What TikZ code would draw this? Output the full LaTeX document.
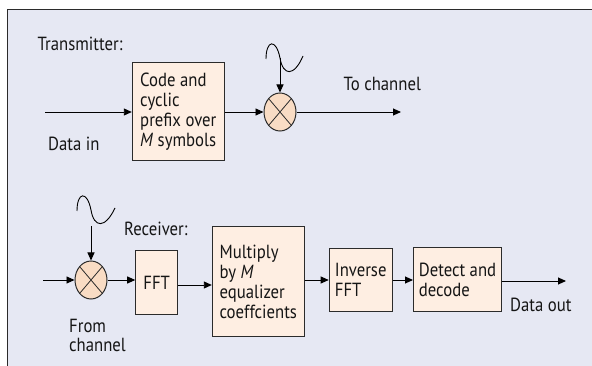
\documentclass[tikz,border=0pt]{standalone}
\usepackage{fontspec}
\setmainfont{PT Sans}[FakeStretch=0.88]
\usetikzlibrary{arrows.meta,shapes.geometric}
\definecolor{bgc}{HTML}{E6E8F3}
\definecolor{boxc}{HTML}{FEEEE2}
\definecolor{mixc}{HTML}{F9DCC4}
\definecolor{linec}{HTML}{2B2B2B}
\definecolor{txtc}{HTML}{151515}
\begin{document}
\begin{tikzpicture}[x=1pt,y=1pt,
  lbl/.style={font=\fontsize{19}{20}\selectfont, text=txtc, inner sep=0pt, align=left},
  blk/.style={draw=linec, line width=1pt, fill=boxc, font=\fontsize{19}{20}\selectfont, text=txtc, align=left, inner sep=0pt},
  mix/.style={ellipse, draw=linec, line width=1pt, fill=mixc, minimum width=32pt, minimum height=38pt, inner sep=0pt},
  conn/.style={draw=black, line width=0.9pt, -{Triangle[length=8pt,width=7pt]}},
  wave/.style={draw=black, line width=0.9pt},
  crossln/.style={draw=linec, line width=0.8pt}]
\useasboundingbox (0,0) rectangle (592,-366);
\fill[white] (0,0) rectangle (592,-366);
\fill[bgc] (7.5,-10) rectangle (592,-366);
\draw[linec, line width=1pt] (7.5,-366) -- (7.5,-10) -- (592,-10);

% Transmitter
\node[lbl, anchor=base west] (ttx) at (37.5,-51) {Transmitter:};
\node[blk, minimum width=92pt, minimum height=98pt] (cp) at (178.3,-112) {Code and\\cyclic\\prefix over\\\textit{M} symbols};
\node[mix] (m1) at (280,-112) {};
\draw[crossln] (m1.north west) -- (m1.south east) (m1.north east) -- (m1.south west);
\coordinate (in1) at (45,-112);
\coordinate (out1) at (401,-112);
\coordinate (s1) at (280,-58);
\draw[conn] (in1) -- (cp);
\draw[conn] (cp) -- (m1);
\draw[conn] (m1) -- (out1);
\draw[wave] (266,-59) .. controls (266,-40) and (276,-38) .. (s1) .. controls (283,-76) and (294,-77) .. (303,-56);
\draw[conn] (s1) -- (m1);
\node[lbl, anchor=base west] (din) at (48,-151) {Data in};
\node[lbl, anchor=base west] (toch) at (343.5,-91) {To channel};

% Receiver
\node[lbl, anchor=base west] (rcv) at (124,-236) {Receiver:};
\node[mix] (m2) at (91,-280) {};
\draw[crossln] (m2.north west) -- (m2.south east) (m2.north east) -- (m2.south west);
\node[blk, minimum width=42pt, minimum height=63pt] (fft) at (156.7,-282.5) {FFT};
\node[blk, minimum width=92pt, minimum height=110.5pt] (mul) at (258.3,-281.5) {Multiply\\by \textit{M}\\equalizer\\coeffcients};
\node[blk, minimum width=63pt, minimum height=62pt] (inv) at (360.7,-280) {Inverse\\FFT};
\node[blk, minimum width=88pt, minimum height=63pt] (det) at (457.5,-279.5) {Detect and\\decode};
\coordinate (in2) at (43,-280);
\coordinate (s2) at (91,-226);
\coordinate (out2) at (566,-281);
\draw[wave] (77,-211) .. controls (77,-192) and (87,-190) .. (91,-210) .. controls (94,-228) and (105,-229) .. (115,-208);
\draw[conn] (s2) -- (m2);
\draw[conn] (in2) -- (m2);
\draw[conn] (m2.east) -- (m2.east -| fft.west);
\draw[conn] ([yshift=-2.5pt]fft.east) -- ([yshift=-2.5pt]fft.east -| mul.west);
\draw[conn] (inv.west -| mul.east) -- (inv.west);
\draw[conn] (inv.east) -- (inv.east -| det.west);
\draw[conn] (det.east |- out2) -- (out2);
\node[lbl, anchor=base west, font=\fontsize{19}{19}\selectfont] (frm) at (69,-351) {From\\channel};
\node[lbl, anchor=base west] (dout) at (510,-312) {Data out};
\end{tikzpicture}
\end{document}
